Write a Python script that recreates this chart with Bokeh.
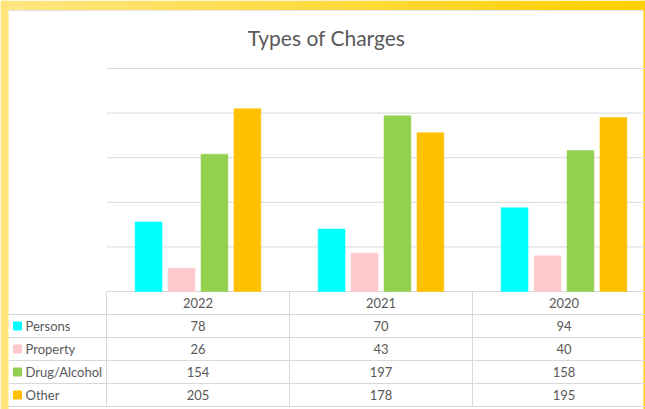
import numpy as np
from bokeh.plotting import figure
from bokeh.models import Range1d, Label, ColumnDataSource
from bokeh.core.properties import value
from bokeh.embed import file_html
from bokeh.resources import INLINE

# ---- data ----
years = ["2022", "2021", "2020"]
series = ["Persons", "Property", "Drug/Alcohol", "Other"]
persons = [78, 70, 94]
prop = [26, 43, 40]
drug = [154, 197, 158]
other = [205, 178, 195]
y_ticks = [0, 50, 100, 150, 200, 250]

values = [persons, prop, drug, other]
colors = ["#00FFFF", "#FFC9CC", "#92D050", "#FFC000"]
FONT = value("Lato")
TXT = "#595959"
GRID = "#D9D9D9"

W, H = 645, 409
x0, x1 = -106 / 183, (645 - 106) / 183
p = figure(width=W, height=H, x_range=Range1d(x0, x1),
           y_range=Range1d(-(409 - 291) / 0.892, 291 / 0.892),
           output_backend="svg", toolbar_location=None, min_border=0,
           x_axis_location=None, y_axis_location=None)
p.grid.visible = False
p.outline_line_color = None
p.background_fill_color = "white"
p.border_fill_color = "white"
p.extra_y_ranges = {"tbl": Range1d(start=(409 - 291) / 23, end=-291 / 23),
                    "py": Range1d(start=409, end=0)}
p.extra_x_ranges = {"px": Range1d(0, 645)}

# decorative yellow frame (gradient approximated)
n = 30
edges = np.linspace(0, 645, n + 1)
c0 = np.array([0xFF, 0xE6, 0x80])
c1 = np.array([0xFF, 0xD0, 0x00])
grad = ["#%02x%02x%02x" % tuple((c0 + (c1 - c0) * t).astype(int)) for t in np.linspace(0, 1, n)]
p.quad(left=edges[:-1], right=edges[1:] + 0.5, top=0, bottom=9.5, fill_color=grad, line_color=None,
       x_range_name="px", y_range_name="py")
p.quad(left=0, right=8, top=0, bottom=409, fill_color="#FFE47C", line_color=None,
       x_range_name="px", y_range_name="py")
p.quad(left=643, right=645, top=0, bottom=409, fill_color="#FFD000", line_color=None,
       x_range_name="px", y_range_name="py")
p.segment(x0=8, x1=643, y0=10, y1=10, line_color="#E3E3E3", line_width=1,
          x_range_name="px", y_range_name="py")

# gridlines
p.segment(x0=[0] * len(y_ticks), x1=[x1] * len(y_ticks), y0=y_ticks, y1=y_ticks,
          line_color=GRID, line_width=1)

# bars
offsets = [-0.27, -0.09, 0.09, 0.27]
idx = np.arange(len(years))
for s, vals, c, off in zip(series, values, colors, offsets):
    src = ColumnDataSource(dict(x=idx + 0.5 + off, top=vals))
    p.vbar(x="x", top="top", bottom=0, width=0.147, source=src,
           fill_color=c, line_color=c, line_width=0.5)

# table lines
p.segment(x0=[0, 1, 2], x1=[0, 1, 2], y0=[0] * 3, y1=[5] * 3,
          line_color=GRID, line_width=1, y_range_name="tbl")
left_edge = (8 - 106) / 183
p.segment(x0=[left_edge] * 5, x1=[x1] * 5, y0=[1, 2, 3, 4, 5], y1=[1, 2, 3, 4, 5],
          line_color=GRID, line_width=1, y_range_name="tbl")

# header
p.text(x=idx + 0.5, y=[0.5] * 3, text=years, text_align="center", text_baseline="middle",
       text_font=FONT, text_font_size="13px", text_color=TXT, y_range_name="tbl")

# row labels with legend keys
rows = np.arange(len(series)) + 1.5
p.scatter(x=[(17 - 106) / 183] * 4, y=rows, marker="square", size=8, fill_color=colors,
          line_color=colors, y_range_name="tbl")
p.text(x=[(25 - 106) / 183] * 4, y=rows, text=series, text_align="left", text_baseline="middle",
       text_font=FONT, text_font_size="13px", text_color=TXT, y_range_name="tbl")

# values
for r, vals in enumerate(values):
    p.text(x=idx + 0.5, y=[r + 1.5] * 3, text=[str(v) for v in vals], text_align="center",
           text_baseline="middle", text_font=FONT, text_font_size="13px", text_color=TXT,
           y_range_name="tbl")

p.add_layout(Label(x=326, y=372, x_units="screen", y_units="screen", text="Types of Charges",
                   text_align="center", text_baseline="middle", text_font="Lato",
                   text_font_size="21px", text_color=TXT))

open("out.html", "w").write(file_html(p, INLINE))
